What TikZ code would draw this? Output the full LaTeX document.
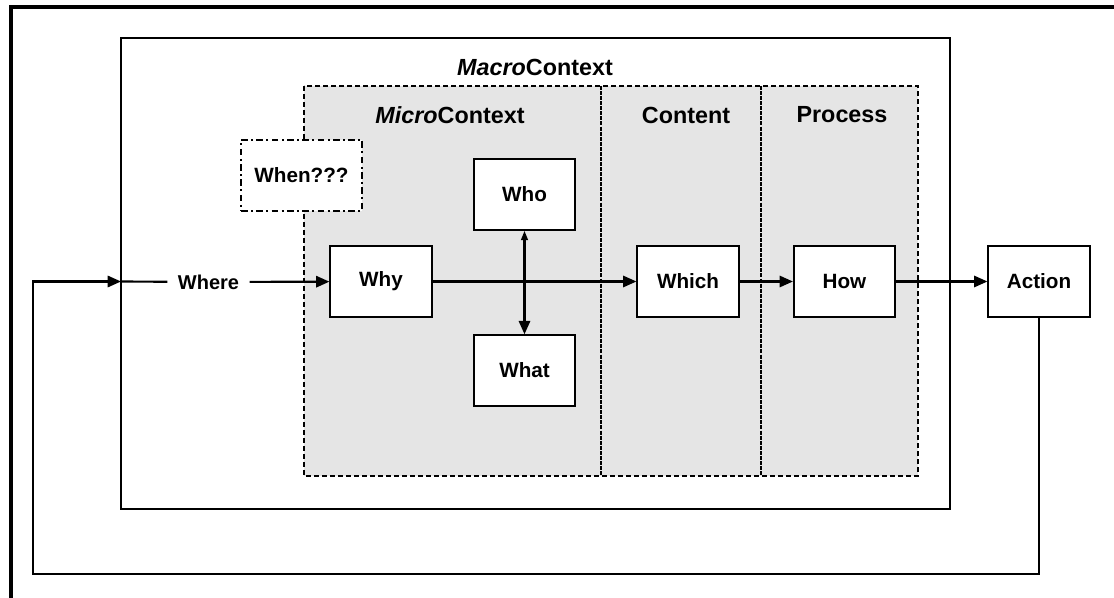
\documentclass[tikz,border=0pt]{standalone}
\usepackage{fontspec}
\setmainfont{Liberation Sans}
\usetikzlibrary{arrows.meta}

\tikzset{every picture/.style={line width=0.75pt}}
\tikzset{
  qbox/.style={draw, fill=white, line width=1.4pt, minimum width=76pt, minimum height=53pt, inner sep=0.75pt, font=\bfseries\fontsize{15.5}{18}\selectfont},
  hlabel/.style={inner sep=0.75pt, font=\bfseries\fontsize{17.5}{20}\selectfont},
  flow/.style={line width=1.6pt, -{Triangle[length=10pt,width=8.5pt]}},
  plain/.style={line width=1.6pt},
}

\begin{document}
\begin{tikzpicture}[x=0.75pt,y=0.75pt,yscale=-1,xscale=1]
\useasboundingbox (0,0) rectangle (1114,598);

%Straight Lines: outer frame
\draw [line width=3pt]   (11,598) -- (11,7) -- (1114,7) ;

%Shape: Rectangle (macro)
\draw [line width=1.3pt]  (121,38) rectangle (950,509) ;
%Shape: Rectangle (micro, content, process)
\draw [line width=1.4pt, dash pattern=on 4pt off 2pt, fill=black!10]  (304,86) rectangle (918,476) ;
%Straight Lines
\draw [line width=0.9pt, dash pattern=on 3pt off 0.8pt]   (601,86) -- (601,476) ;
%Straight Lines
\draw [line width=0.9pt, dash pattern=on 3pt off 0.8pt]   (761,86) -- (761,476) ;

% Text Node
\draw (535,67) node (macro) [hlabel] {\textit{Macro}Context};
% Text Node
\draw (450,115) node (micro) [hlabel] {\textit{Micro}Context};
% Text Node
\draw (686,115) node (content) [hlabel] {Content};
% Text Node
\draw (842,115) node (process) [hlabel] {Process};

% Text Node
\draw (301.5,175.5) node (when) [qbox, minimum width=91pt, dash pattern=on 5pt off 2.5pt on 1.5pt off 2.5pt] {When???};
% Text Node
\draw (381,281.5) node (why) [qbox] {Why};
% Text Node
\draw (524.5,194.5) node (who) [qbox] {Who};
% Text Node
\draw (524.5,370.5) node (what) [qbox] {What};
% Text Node
\draw (688,281.5) node (which) [qbox] {Which};
% Text Node
\draw (844.5,281.5) node (how) [qbox] {How};
% Text Node
\draw (1039,281.5) node (action) [qbox] {Action};
% Text Node
\draw (208.5,282) node (where) [inner xsep=7.5pt, inner ysep=0.75pt, font=\bfseries\fontsize{15}{18}\selectfont] {Where};

\coordinate (entry) at (121,281.5);
\coordinate (loop) at (33,574);

%Straight Lines
\draw [plain]   (entry) -- (where) ;
\draw [flow]   (where) -- (why) ;
\draw [flow]   (why) -- (which) ;
\draw [flow]   (which) -- (how) ;
\draw [flow]   (how) -- (action) ;
\draw [line width=1.6pt, {Triangle[length=7pt,width=5pt]}-{Triangle[length=10pt,width=8.5pt]}]   (who) -- (what) ;
\draw [flow]   (action.south) |- (loop) |- (entry) ;

\end{tikzpicture}
\end{document}
